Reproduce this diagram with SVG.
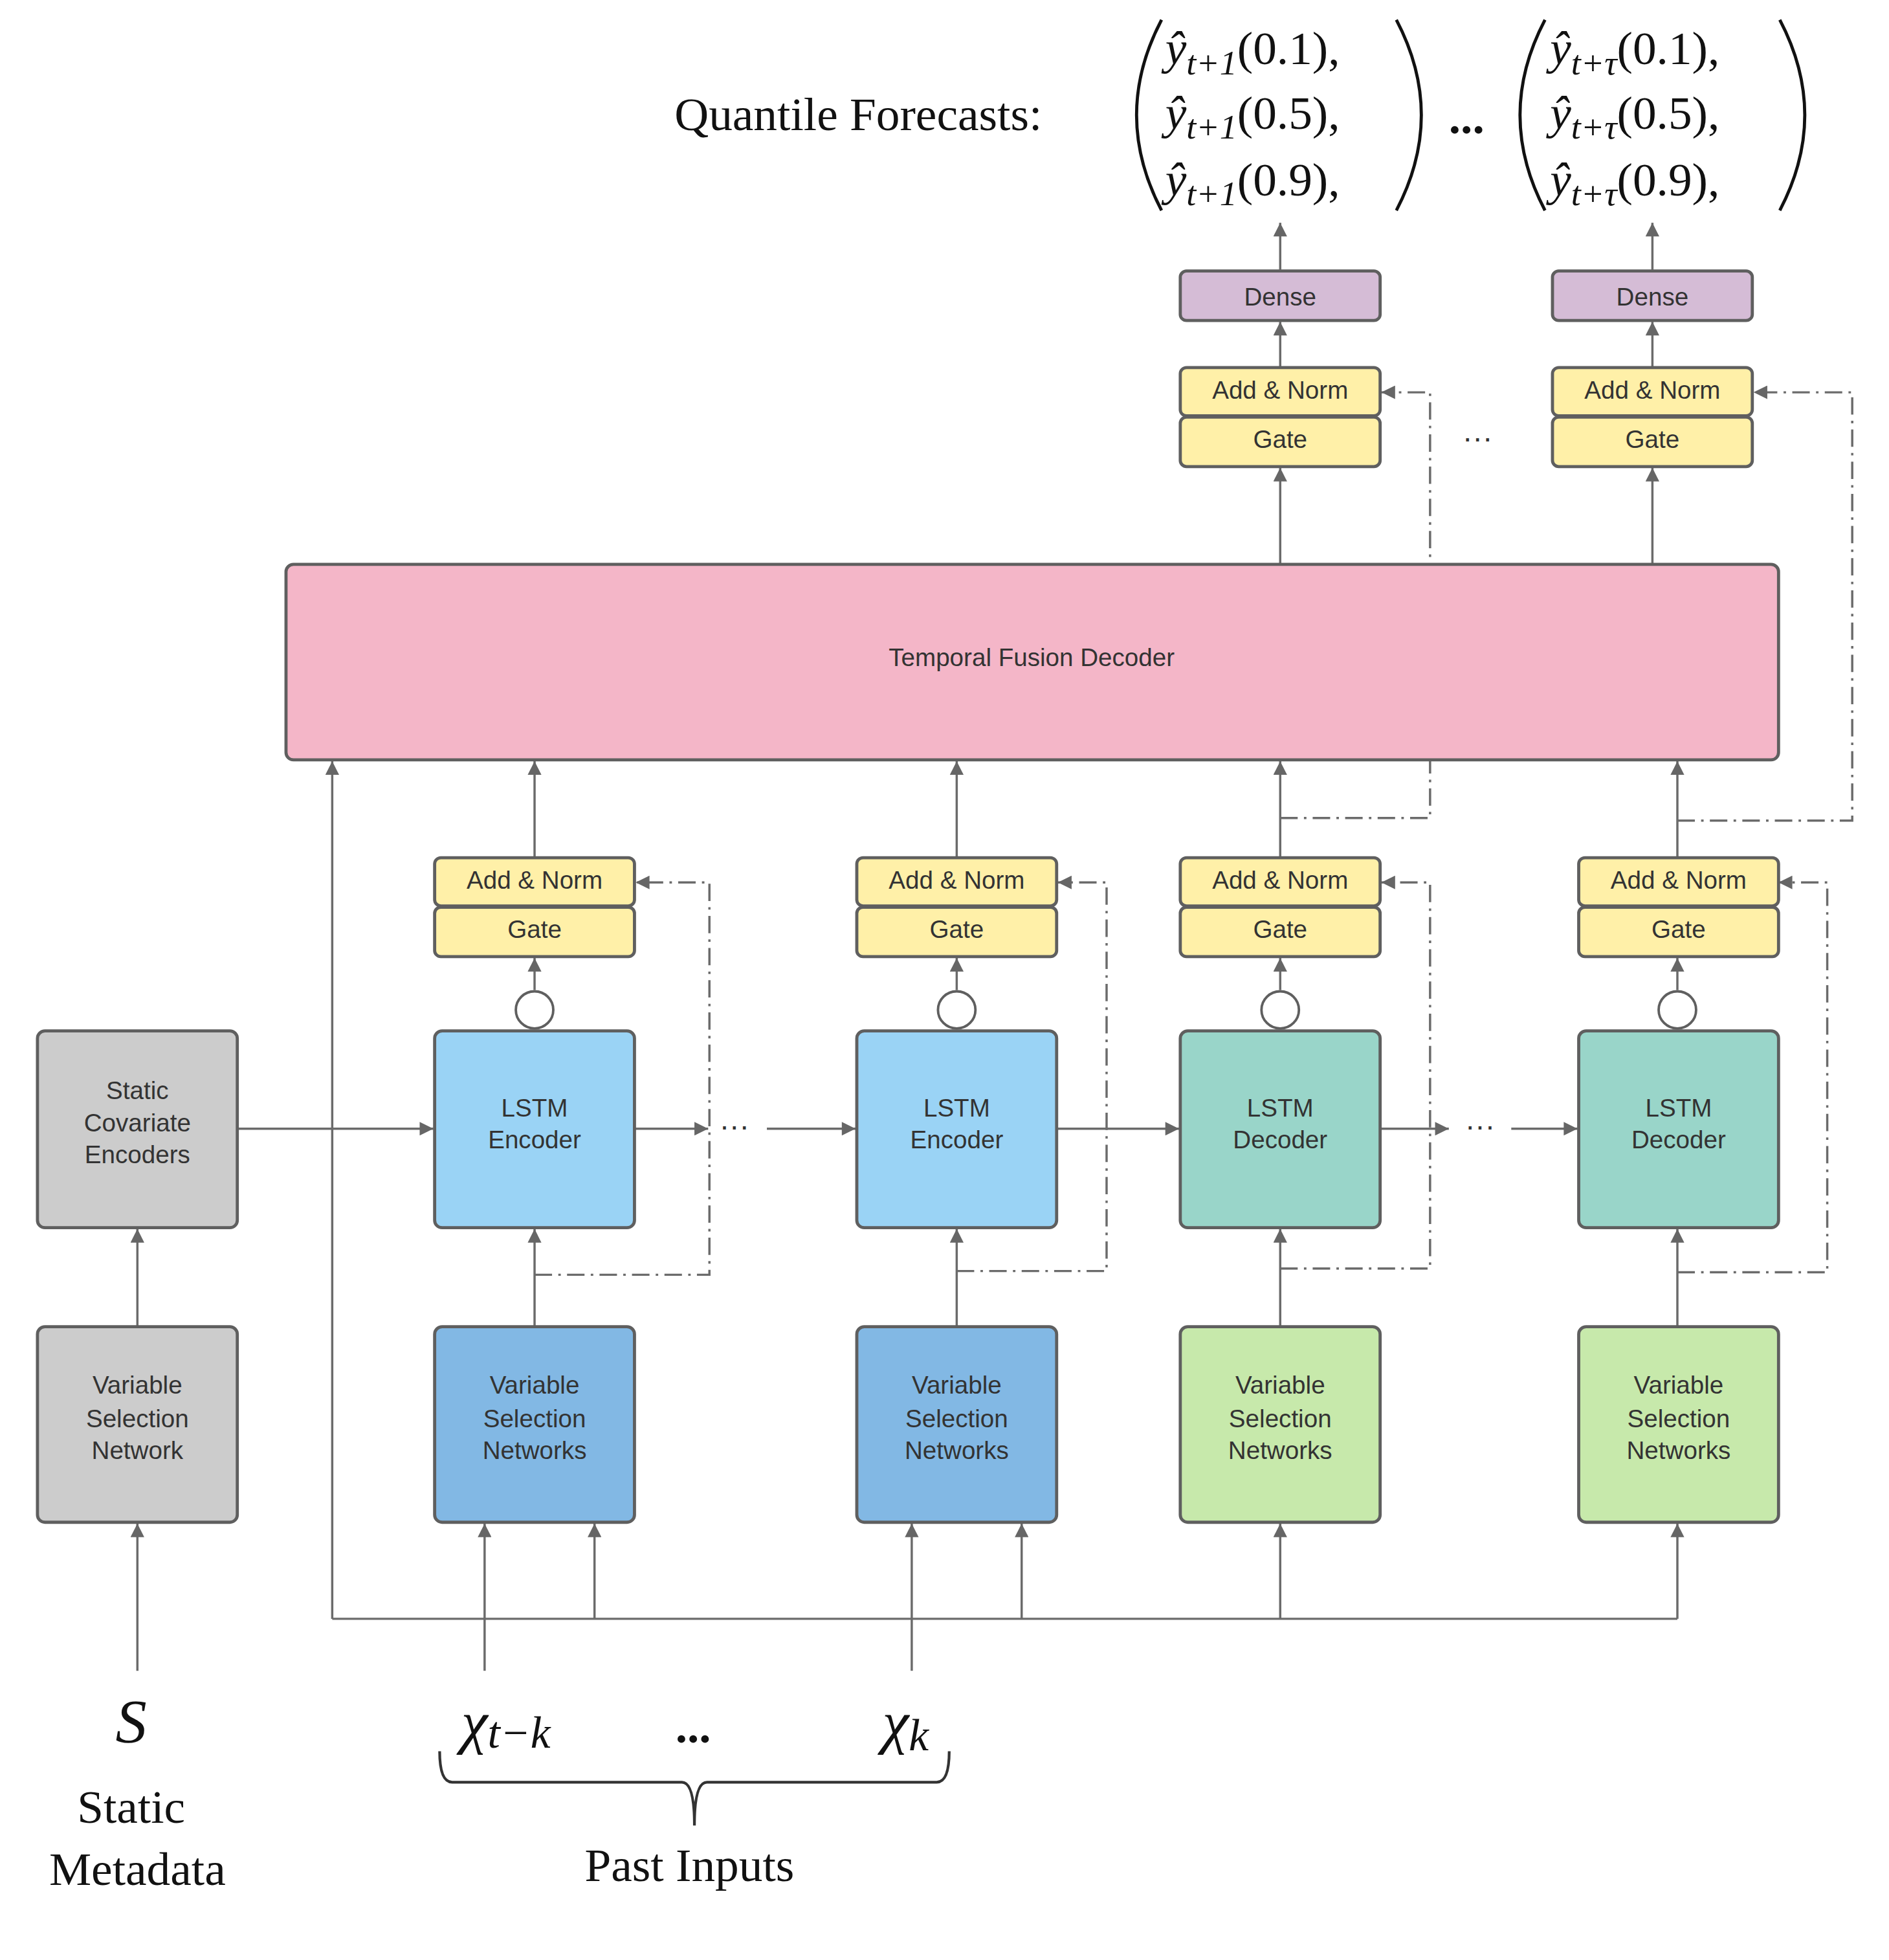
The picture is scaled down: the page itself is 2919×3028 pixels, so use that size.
<svg xmlns="http://www.w3.org/2000/svg" width="2919" height="3028" viewBox="0 0 2919 3028">
<style>
.b{stroke:#5f5f5f;stroke-width:2.5}
.t{font-family:"Liberation Sans",Arial,sans-serif;font-size:20px;fill:#333;text-anchor:middle}
.s{font-family:"Liberation Serif","Times New Roman",serif;fill:#111}
.c{fill:none;stroke:#6b6b6b;stroke-width:1.8}
.d{fill:none;stroke:#6b6b6b;stroke-width:1.8;stroke-dasharray:14 5 2 5}
</style>
<defs>
<marker id="a" viewBox="0 0 10 10" refX="10" refY="5" markerWidth="14" markerHeight="11" markerUnits="userSpaceOnUse" orient="auto"><path d="M0,0L10,5L0,10z" fill="#666"/></marker>
</defs>
<rect width="2919" height="3028" fill="#fff"/>
<g transform="scale(1.93,1.912)">
<g id="connectors">
<path class="c" marker-end="url(#a)" d="M1025,218V180"/>
<path class="c" marker-end="url(#a)" d="M1323,218V180"/>
<path class="c" marker-end="url(#a)" d="M1025,297V260"/>
<path class="c" marker-end="url(#a)" d="M1323,297V260"/>
<path class="c" marker-end="url(#a)" d="M1025,456V378"/>
<path class="c" marker-end="url(#a)" d="M1323,456V378"/>
<path class="d" marker-end="url(#a)" d="M1025,661H1145V317H1106"/>
<path class="d" marker-end="url(#a)" d="M1343,663H1483V317H1404"/>
<path class="c" marker-end="url(#a)" d="M266,1308V615"/>
<path class="c" d="M266,1308H1343"/>
<path class="c" marker-end="url(#a)" d="M428,693V615"/>
<path class="c" marker-end="url(#a)" d="M766,693V615"/>
<path class="c" marker-end="url(#a)" d="M1025,693V615"/>
<path class="c" marker-end="url(#a)" d="M1343,693V615"/>
<path class="c" marker-end="url(#a)" d="M428,800V774"/>
<path class="c" marker-end="url(#a)" d="M766,800V774"/>
<path class="c" marker-end="url(#a)" d="M1025,800V774"/>
<path class="c" marker-end="url(#a)" d="M1343,800V774"/>
<path class="c" marker-end="url(#a)" d="M428,1072V993"/>
<path class="c" marker-end="url(#a)" d="M766,1072V993"/>
<path class="c" marker-end="url(#a)" d="M1025,1072V993"/>
<path class="c" marker-end="url(#a)" d="M1343,1072V993"/>
<path class="c" marker-end="url(#a)" d="M110,1072V993"/>
<path class="c" marker-end="url(#a)" d="M110,1350V1231"/>
<path class="c" marker-end="url(#a)" d="M388,1350V1231"/>
<path class="c" marker-end="url(#a)" d="M730,1350V1231"/>
<path class="c" marker-end="url(#a)" d="M476,1308V1231"/>
<path class="c" marker-end="url(#a)" d="M818,1308V1231"/>
<path class="c" marker-end="url(#a)" d="M1025,1308V1231"/>
<path class="c" marker-end="url(#a)" d="M1343,1308V1231"/>
<path class="d" marker-end="url(#a)" d="M428,1030H568V713H509"/>
<path class="d" marker-end="url(#a)" d="M766,1027H886V713H847"/>
<path class="d" marker-end="url(#a)" d="M1025,1025H1145V713H1106"/>
<path class="d" marker-end="url(#a)" d="M1343,1028H1463V713H1424"/>
<path class="c" marker-end="url(#a)" d="M190,912H347"/>
<path class="c" marker-end="url(#a)" d="M508,912H567"/>
<path class="c" marker-end="url(#a)" d="M614,912H685"/>
<path class="c" marker-end="url(#a)" d="M846,912H944"/>
<path class="c" marker-end="url(#a)" d="M1105,912H1160"/>
<path class="c" marker-end="url(#a)" d="M1210,912H1263"/>
</g>
<g id="dots" class="t" style="font-size:24px">
<text x="588" y="918">···</text><text x="1185" y="918">···</text><text x="1183" y="362">···</text>
</g>
<g id="outputs" class="s">
<text x="540" y="105" font-size="38">Quantile  Forecasts:</text>
<path d="M930,16Q890,93 930,170M1118,16Q1158,93 1118,170M1237,16Q1197,93 1237,170M1425,16Q1465,93 1425,170" fill="none" stroke="#111" stroke-width="2.5"/>
<g font-size="38" font-style="italic">
<text x="933" y="52">ŷ<tspan font-size="28" dy="8">t+1</tspan><tspan font-style="normal" dy="-8">(0.1),</tspan></text>
<text x="933" y="104">ŷ<tspan font-size="28" dy="8">t+1</tspan><tspan font-style="normal" dy="-8">(0.5),</tspan></text>
<text x="933" y="158">ŷ<tspan font-size="28" dy="8">t+1</tspan><tspan font-style="normal" dy="-8">(0.9),</tspan></text>
<text x="1241" y="52">ŷ<tspan font-size="28" dy="8">t+τ</tspan><tspan font-style="normal" dy="-8">(0.1),</tspan></text>
<text x="1241" y="104">ŷ<tspan font-size="28" dy="8">t+τ</tspan><tspan font-style="normal" dy="-8">(0.5),</tspan></text>
<text x="1241" y="158">ŷ<tspan font-size="28" dy="8">t+τ</tspan><tspan font-style="normal" dy="-8">(0.9),</tspan></text>
</g>
<text x="1160" y="108" font-size="38" font-weight="bold">...</text>
</g>
<g id="dense1"><rect class="b" x="945" y="219" width="160" height="40" rx="5" fill="#d5bcd6"/><text class="t" x="1025" y="247">Dense</text></g>
<g id="dense2"><rect class="b" x="1243" y="219" width="160" height="40" rx="5" fill="#d5bcd6"/><text class="t" x="1323" y="247">Dense</text></g>
<g id="gate_out1"><rect class="b" x="945" y="297" width="160" height="39" rx="5" fill="#fff0a8"/><text class="t" x="1025" y="322">Add &amp; Norm</text><rect class="b" x="945" y="337" width="160" height="40" rx="5" fill="#fff0a8"/><text class="t" x="1025" y="362">Gate</text></g>
<g id="gate_out2"><rect class="b" x="1243" y="297" width="160" height="39" rx="5" fill="#fff0a8"/><text class="t" x="1323" y="322">Add &amp; Norm</text><rect class="b" x="1243" y="337" width="160" height="40" rx="5" fill="#fff0a8"/><text class="t" x="1323" y="362">Gate</text></g>
<g id="tfd"><rect class="b" x="229" y="456" width="1195" height="158" rx="6" fill="#f4b6c8"/><text class="t" x="826" y="538">Temporal Fusion Decoder</text></g>
<g id="static_enc"><rect class="b" x="30" y="833" width="160" height="159" rx="6" fill="#cccccc"/><text class="t" x="110" y="888">Static</text><text class="t" x="110" y="914">Covariate</text><text class="t" x="110" y="940">Encoders</text></g>
<g id="static_vsn"><rect class="b" x="30" y="1072" width="160" height="158" rx="6" fill="#cccccc"/><text class="t" x="110" y="1126">Variable</text><text class="t" x="110" y="1153">Selection</text><text class="t" x="110" y="1179">Network</text></g>
<g id="col1">
<rect class="b" x="348" y="693" width="160" height="39" rx="5" fill="#fff0a8"/><text class="t" x="428" y="718">Add &amp; Norm</text>
<rect class="b" x="348" y="733" width="160" height="40" rx="5" fill="#fff0a8"/><text class="t" x="428" y="758">Gate</text>
<circle cx="428" cy="816" r="15" fill="#fff" stroke="#5f5f5f" stroke-width="2"/>
<rect class="b" x="348" y="833" width="160" height="159" rx="6" fill="#9ad3f5"/><text class="t" x="428" y="902">LSTM</text><text class="t" x="428" y="928">Encoder</text>
<rect class="b" x="348" y="1072" width="160" height="158" rx="6" fill="#82b8e4"/><text class="t" x="428" y="1126">Variable</text><text class="t" x="428" y="1153">Selection</text><text class="t" x="428" y="1179">Networks</text>
</g>
<g id="col2">
<rect class="b" x="686" y="693" width="160" height="39" rx="5" fill="#fff0a8"/><text class="t" x="766" y="718">Add &amp; Norm</text>
<rect class="b" x="686" y="733" width="160" height="40" rx="5" fill="#fff0a8"/><text class="t" x="766" y="758">Gate</text>
<circle cx="766" cy="816" r="15" fill="#fff" stroke="#5f5f5f" stroke-width="2"/>
<rect class="b" x="686" y="833" width="160" height="159" rx="6" fill="#9ad3f5"/><text class="t" x="766" y="902">LSTM</text><text class="t" x="766" y="928">Encoder</text>
<rect class="b" x="686" y="1072" width="160" height="158" rx="6" fill="#82b8e4"/><text class="t" x="766" y="1126">Variable</text><text class="t" x="766" y="1153">Selection</text><text class="t" x="766" y="1179">Networks</text>
</g>
<g id="col3">
<rect class="b" x="945" y="693" width="160" height="39" rx="5" fill="#fff0a8"/><text class="t" x="1025" y="718">Add &amp; Norm</text>
<rect class="b" x="945" y="733" width="160" height="40" rx="5" fill="#fff0a8"/><text class="t" x="1025" y="758">Gate</text>
<circle cx="1025" cy="816" r="15" fill="#fff" stroke="#5f5f5f" stroke-width="2"/>
<rect class="b" x="945" y="833" width="160" height="159" rx="6" fill="#99d5c9"/><text class="t" x="1025" y="902">LSTM</text><text class="t" x="1025" y="928">Decoder</text>
<rect class="b" x="945" y="1072" width="160" height="158" rx="6" fill="#c7e9ab"/><text class="t" x="1025" y="1126">Variable</text><text class="t" x="1025" y="1153">Selection</text><text class="t" x="1025" y="1179">Networks</text>
</g>
<g id="col4">
<rect class="b" x="1264" y="693" width="160" height="39" rx="5" fill="#fff0a8"/><text class="t" x="1344" y="718">Add &amp; Norm</text>
<rect class="b" x="1264" y="733" width="160" height="40" rx="5" fill="#fff0a8"/><text class="t" x="1344" y="758">Gate</text>
<circle cx="1343" cy="816" r="15" fill="#fff" stroke="#5f5f5f" stroke-width="2"/>
<rect class="b" x="1264" y="833" width="160" height="159" rx="6" fill="#99d5c9"/><text class="t" x="1344" y="902">LSTM</text><text class="t" x="1344" y="928">Decoder</text>
<rect class="b" x="1264" y="1072" width="160" height="158" rx="6" fill="#c7e9ab"/><text class="t" x="1344" y="1126">Variable</text><text class="t" x="1344" y="1153">Selection</text><text class="t" x="1344" y="1179">Networks</text>
</g>
<g id="inputs" class="s" text-anchor="middle">
<text x="105" y="1408" font-size="50" font-style="italic">S</text>
<text x="105" y="1473" font-size="38">Static</text>
<text x="110" y="1523" font-size="38">Metadata</text>
<text x="405" y="1408" font-size="48" font-style="italic">χ<tspan font-size="36" dy="4">t−k</tspan></text>
<text x="555" y="1408" font-size="38" font-weight="bold">...</text>
<text x="725" y="1408" font-size="48" font-style="italic">χ<tspan font-size="36" dy="6">k</tspan></text>
<path d="M352,1415Q352,1440 362,1440H546Q556,1440 556,1475Q556,1440 566,1440H750Q760,1440 760,1415" fill="none" stroke="#333" stroke-width="2.2"/>
<text x="552" y="1520" font-size="38">Past Inputs</text>
</g>
</g>
</svg>
